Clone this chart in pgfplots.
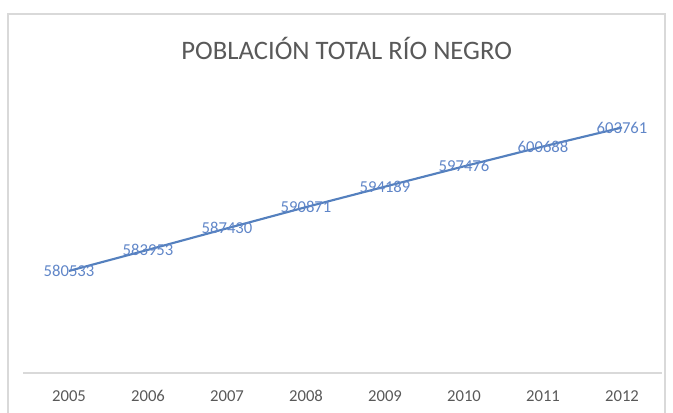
\documentclass[border=0pt]{standalone}
\usepackage{pgfplots}
\pgfplotsset{compat=1.18}
\usepackage{fontspec}
\setmainfont{Carlito}
\definecolor{linecol}{RGB}{84,128,190}
\definecolor{labcol}{RGB}{96,134,200}
\definecolor{txtgray}{RGB}{89,89,89}
\definecolor{framegray}{RGB}{217,217,217}
\begin{document}
\begin{tikzpicture}[x=1pt,y=1pt]
\useasboundingbox (0,0) rectangle (504.75,309);
\draw[framegray, line width=0.8pt] (6,-5) -- (6,298.5) -- (498.75,298.5) -- (498.75,-5);
\node[txtgray, font=\fontsize{20}{24}\selectfont] at (260,273) {POBLACIÓN TOTAL RÍO NEGRO};
\begin{axis}[
  at={(22.125pt,29.25pt)}, anchor=south west,
  width=474pt, height=213pt, scale only axis,
  xmin=-0.5, xmax=7.5, ymin=564000, ymax=610000,
  axis line style={draw=none},
  axis x line*=bottom, axis y line=none,
  xtick={0,...,7},
  xticklabels={2005,2006,2007,2008,2009,2010,2011,2012},
  major tick length=0pt,
  xticklabel style={font=\fontsize{12.5}{15}\selectfont, text=txtgray, text height=8.5pt, text depth=0pt, yshift=-9.5pt},
  ytick=\empty,
  clip=false,
]
\draw[framegray, line width=0.9pt] (axis cs:-0.58,564000) -- (axis cs:7.5,564000);
\addplot[linecol, line width=1.6pt, mark=none,
  point meta=explicit symbolic,
  nodes near coords,
  nodes near coords align={center},
  every node near coord/.append style={font=\fontsize{12.5}{15}\selectfont, text=labcol, anchor=center},
] coordinates {
  (0,580533) [580533]
  (1,583953) [583953]
  (2,587430) [587430]
  (3,590871) [590871]
  (4,594189) [594189]
  (5,597476) [597476]
  (6,600688) [600688]
  (7,603761) [603761]
};
\end{axis}
\end{tikzpicture}
\end{document}
